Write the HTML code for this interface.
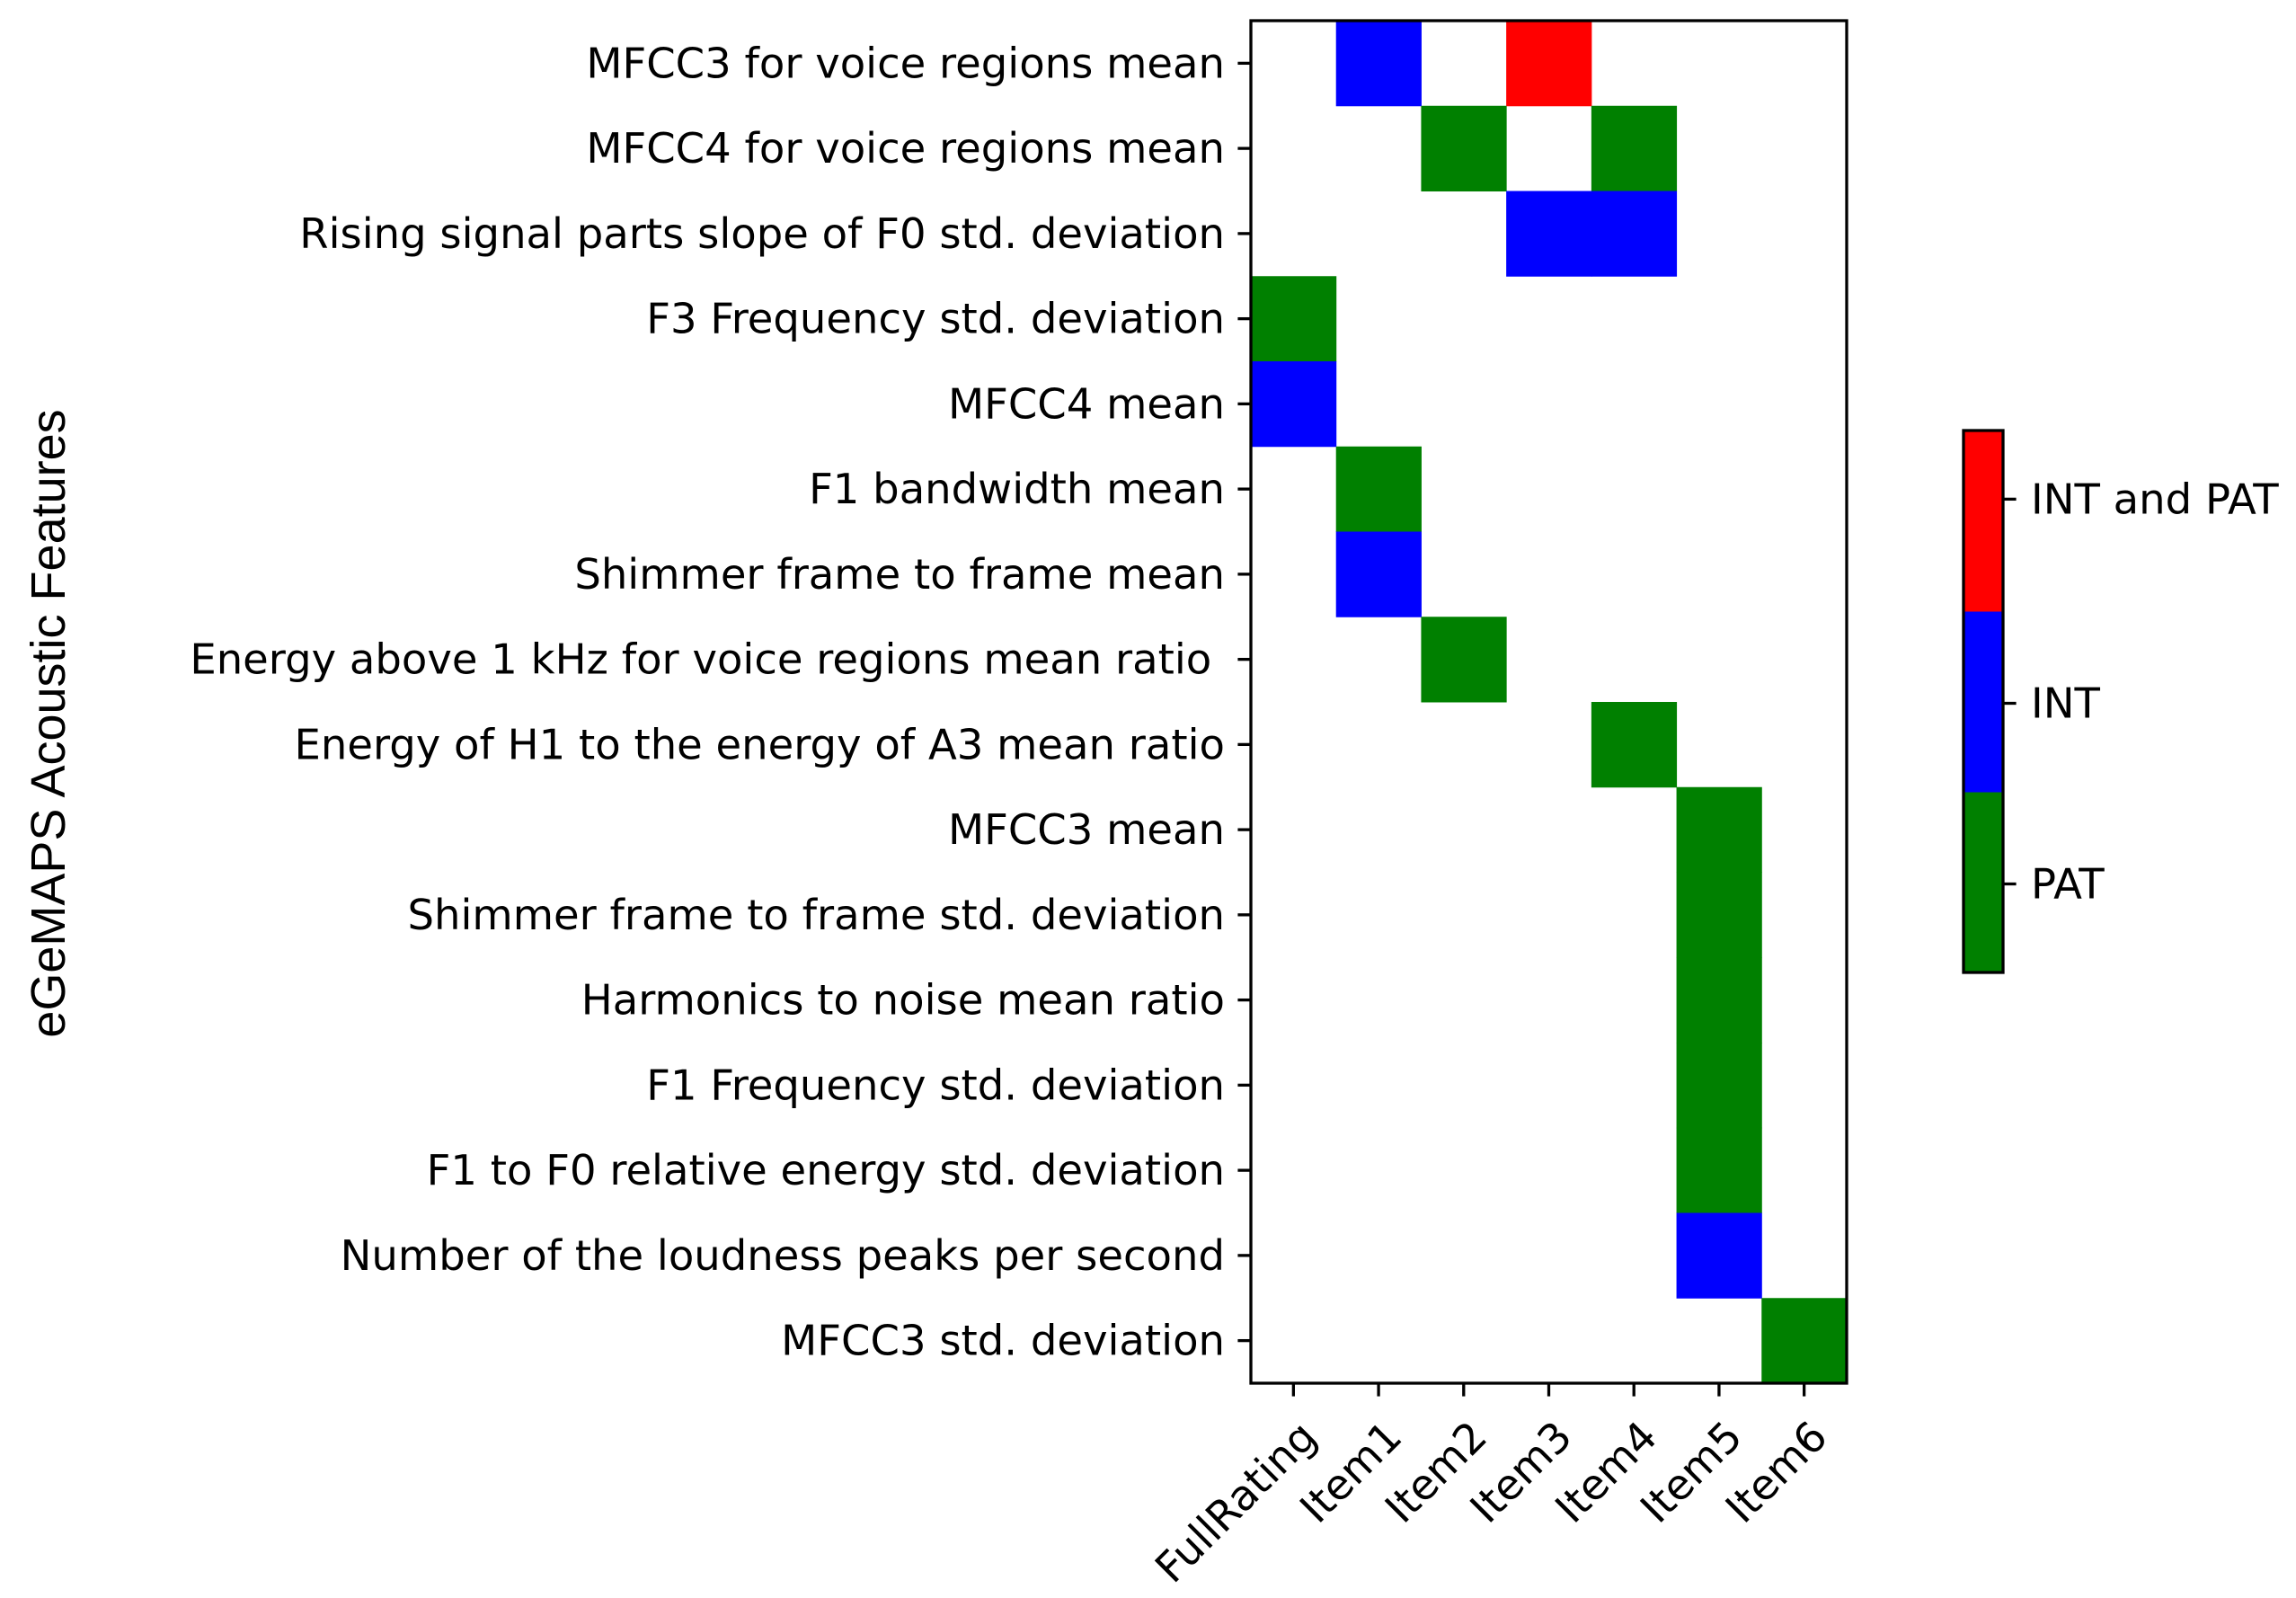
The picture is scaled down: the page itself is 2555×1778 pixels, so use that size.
<!DOCTYPE html>
<html><head><meta charset="utf-8"><style>
html,body{margin:0;padding:0;background:#fff;}
svg{display:block;}
text{font-family:"DejaVu Sans","Liberation Sans",sans-serif;font-size:46.5px;fill:#000;white-space:pre;}
</style></head><body>
<svg id="chart" width="2555" height="1778" xmlns="http://www.w3.org/2000/svg">
<g id="cells"></g>
<g id="yticks"></g>
<g id="xticks"></g>
<rect x="1392" y="23" width="663" height="1516" fill="none" stroke="#000" stroke-width="3.3"/>
<text x="54" y="805" transform="rotate(-90 54 805)" text-anchor="middle" dominant-baseline="central" style="font-family:'Liberation Sans',sans-serif;font-size:54px">eGeMAPS Acoustic Features</text>
<g id="cbar"></g>
</svg>
<script>
const rowLabels=["MFCC3 for voice regions mean","MFCC4 for voice regions mean","Rising signal parts slope of F0 std. deviation","F3 Frequency std. deviation","MFCC4 mean","F1 bandwidth mean","Shimmer frame to frame mean","Energy above 1 kHz for voice regions mean ratio ","Energy of H1 to the energy of A3 mean ratio","MFCC3 mean","Shimmer frame to frame std. deviation","Harmonics to noise mean ratio","F1 Frequency std. deviation","F1 to F0 relative energy std. deviation","Number of the loudness peaks per second","MFCC3 std. deviation"];
const colLabels=["FullRating","Item1","Item2","Item3","Item4","Item5","Item6"];
// 0 none, 1 PAT, 2 INT, 3 INT and PAT
const values=[
[0,2,0,3,0,0,0],
[0,0,1,0,1,0,0],
[0,0,0,2,2,0,0],
[1,0,0,0,0,0,0],
[2,0,0,0,0,0,0],
[0,1,0,0,0,0,0],
[0,2,0,0,0,0,0],
[0,0,1,0,0,0,0],
[0,0,0,0,1,0,0],
[0,0,0,0,0,1,0],
[0,0,0,0,0,1,0],
[0,0,0,0,0,1,0],
[0,0,0,0,0,1,0],
[0,0,0,0,0,1,0],
[0,0,0,0,0,2,0],
[0,0,0,0,0,0,1]];
const cbLabels=["PAT","INT","INT and PAT"];
const cbTickVals=[0.99,1.99,3.12];
const colors=[null,"#008000","#0000ff","#ff0000"];
const NS="http://www.w3.org/2000/svg";
const L=1392,R=2055,T=23,B=1539;
const cw=(R-L)/colLabels.length, rh=(B-T)/rowLabels.length;
const xs=i=>L+i*cw, ys=j=>T+j*rh;
function mk(tag,attrs,parent){const e=document.createElementNS(NS,tag);for(const k in attrs)e.setAttribute(k,attrs[k]);parent.appendChild(e);return e;}
const cells=document.getElementById('cells');
values.forEach((row,j)=>row.forEach((v,i)=>{if(!v)return;
 const r=mk('rect',{x:xs(i),y:ys(j),width:cw+0.5,height:rh+0.5,fill:colors[v]},cells);
 
 
}));
const yt=document.getElementById('yticks');
rowLabels.forEach((lab,j)=>{const y=ys(j)+rh/2;
 const l=mk('line',{x1:L-14.6,x2:L,y1:y,y2:y,stroke:'#000','stroke-width':3.3},yt);
 
 
 const t=mk('text',{x:L-29,y:y,'text-anchor':'end','dominant-baseline':'central'},yt);t.textContent=lab;
 
 
});
const xt=document.getElementById('xticks');
colLabels.forEach((lab,i)=>{const x=xs(i)+cw/2;
 const l=mk('line',{x1:x,x2:x,y1:B,y2:B+14.6,stroke:'#000','stroke-width':3.3},xt);
 
 
 const ty=B+38, tx=x+4;
 const t=mk('text',{x:tx,y:ty,'text-anchor':'end','dominant-baseline':'hanging',transform:`rotate(-45 ${tx} ${ty})`},xt);t.textContent=lab;
 
 
});
const cb=document.getElementById('cbar');
const cbL=2185,cbR=2229,cbT=479,cbB=1082,n=cbLabels.length,sh=(cbB-cbT)/n;
const cy=v=>cbB-(v-0.5)/n*(cbB-cbT);
cbLabels.forEach((lab,k)=>{const y0=cbB-(k+1)*sh;
 const r=mk('rect',{x:cbL,y:y0,width:cbR-cbL,height:sh+0.5,fill:colors[k+1]},cb);
 
 
 const yc=cy(cbTickVals[k]);
 mk('line',{x1:cbR,x2:cbR+14.6,y1:yc,y2:yc,stroke:'#000','stroke-width':3.3},cb);
 const t=mk('text',{x:cbR+31,y:yc,'dominant-baseline':'central'},cb);t.textContent=lab;
 
 
});
mk('rect',{x:cbL,y:cbT,width:cbR-cbL,height:cbB-cbT,fill:'none',stroke:'#000','stroke-width':3.3},cb);
</script>
</body></html>
